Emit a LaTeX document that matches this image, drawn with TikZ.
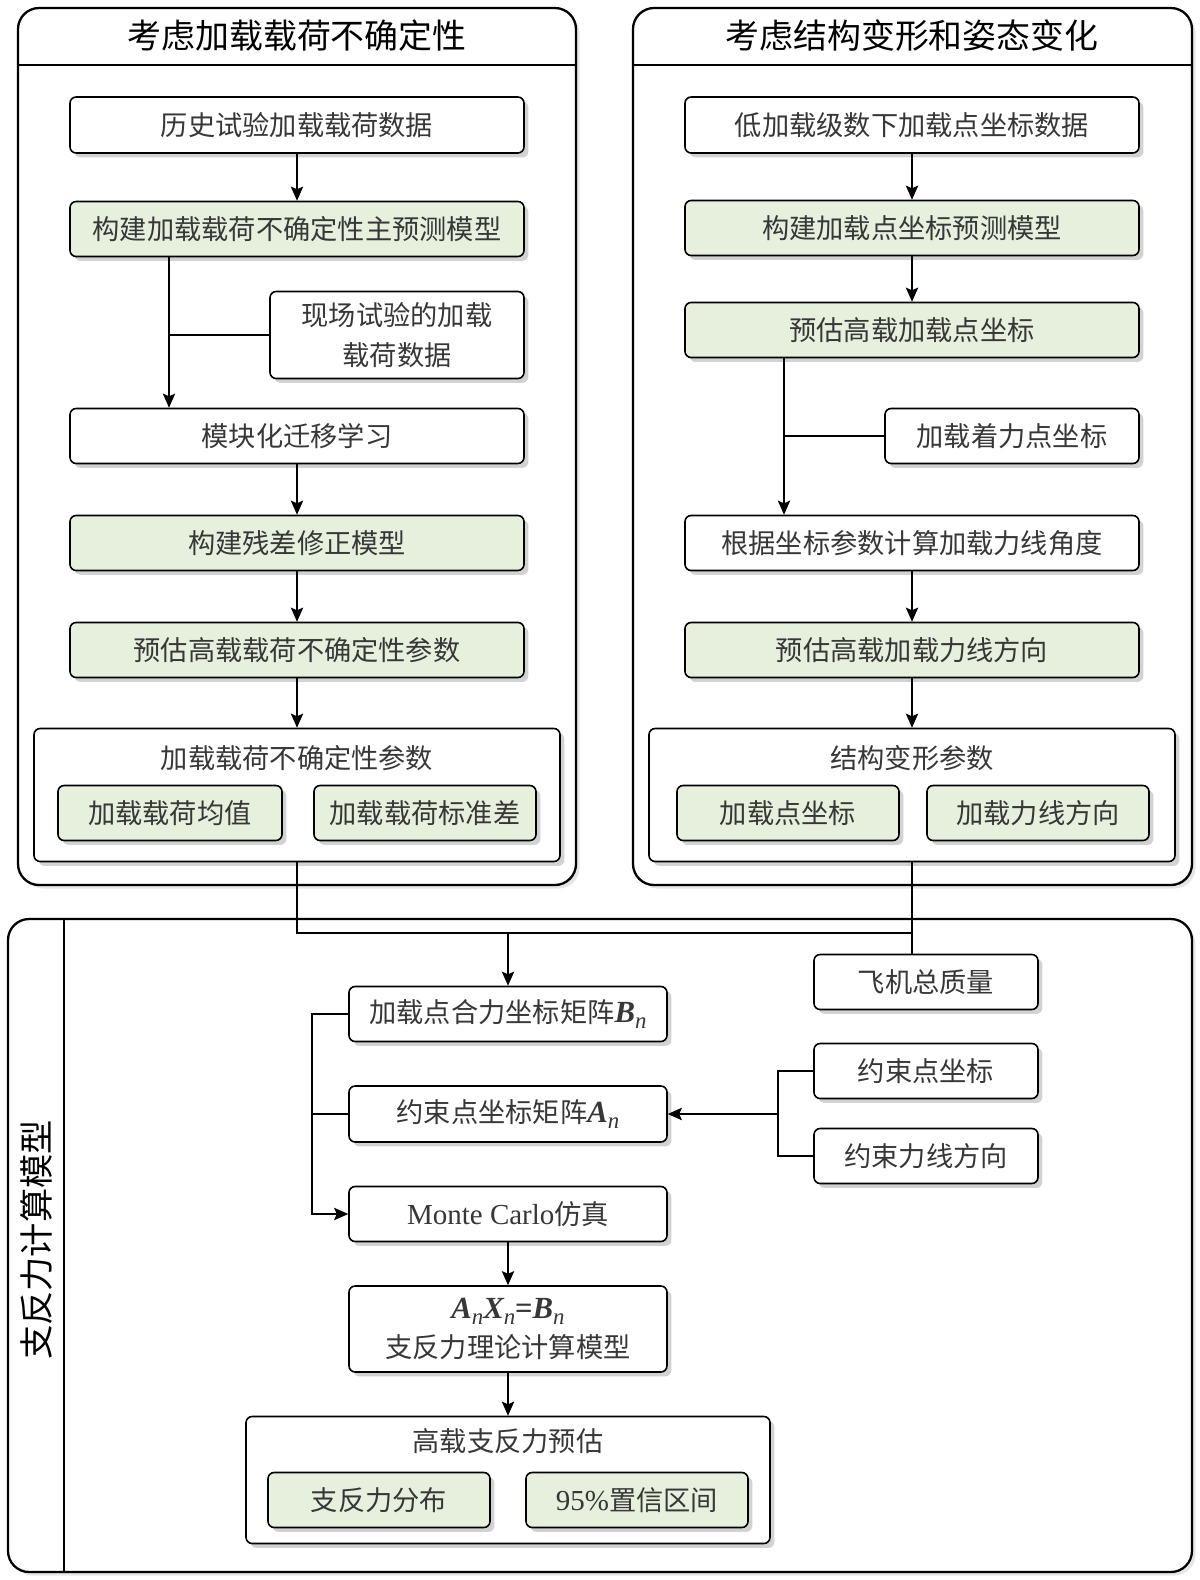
\documentclass[tikz,border=0pt]{standalone}
\usepackage{fontspec}
\setmainfont{Liberation Serif}
\newfontfamily\cjk{Noto Sans CJK SC}
\usetikzlibrary{arrows.meta,shadows}
\definecolor{boxgreen}{RGB}{231,240,220}
\definecolor{txtgray}{RGB}{55,55,55}
\newcommand\mvar[2]{{\rmfamily\bfseries\itshape\fontsize{17.5}{20}\selectfont #1}\raisebox{-0.45ex}{\rmfamily\itshape\fontsize{13}{13}\selectfont #2}}
\begin{document}
\begin{tikzpicture}[x=0.02cm,y=-0.02cm,
  sz/.style 2 args={minimum width=#1*0.02cm, minimum height=#2*0.02cm},
  box/.style={draw=black, line width=0.9pt, rounded corners=3.5pt, fill=white,
    drop shadow={shadow xshift=2.5pt,shadow yshift=-2.5pt,opacity=0.35},
    font=\cjk\fontsize{15.5}{22.5}\selectfont, text=txtgray, align=center, inner sep=0pt},
  gbox/.style={box, fill=boxgreen},
  panel/.style={draw=black, line width=1.3pt, rounded corners=12pt, fill=white,
    drop shadow={shadow xshift=2pt,shadow yshift=-2pt,opacity=0.2}},
  head/.style={font=\cjk\fontsize{19.3}{24}\selectfont, text=black},
  ctitle/.style={font=\cjk\fontsize{15.5}{20}\selectfont, text=txtgray},
  arr/.style={-{Stealth[length=8pt,width=7pt,inset=1.5pt]}, line width=1pt},
  ln/.style={line width=1pt},
]
\useasboundingbox (0,0) rectangle (1200,1580);

% ---------- panels ----------
\draw[panel] (18,8) rectangle (576,885);
\draw[line width=1.3pt] (18,65) -- (576,65);
\node[head] (hl) at (297,36) {考虑加载载荷不确定性};

\draw[panel] (633,8) rectangle (1192,885);
\draw[line width=1.3pt] (633,65) -- (1192,65);
\node[head] (hr) at (912,36) {考虑结构变形和姿态变化};

\draw[panel] (8,919) rectangle (1192,1572);
\draw[line width=1.3pt] (64,919) -- (64,1572);
\node[head, rotate=90, font=\cjk\fontsize{19.5}{24}\selectfont] (hb) at (36,1240) {支反力计算模型};

% ---------- left column ----------
\node[box, sz={454}{56}] (L1) at (297,125) {历史试验加载载荷数据};
\node[gbox, sz={454}{55}] (L2) at (297,229) {构建加载载荷不确定性主预测模型};
\node[box, sz={254}{87}] (L3) at (397,335) {现场试验的加载\\载荷数据};
\node[box, sz={454}{55}] (L4) at (297,436) {模块化迁移学习};
\node[gbox, sz={454}{55}] (L5) at (297,543) {构建残差修正模型};
\node[gbox, sz={454}{55}] (L6) at (297,650) {预估高载载荷不确定性参数};
\node[box, sz={526}{133}] (LC) at (297,795) {};
\node[ctitle] (LCt) at (297,758) {加载载荷不确定性参数};
\node[gbox, sz={224}{55}] (L7) at (170,813) {加载载荷均值};
\node[gbox, sz={222}{55}] (L8) at (425,813) {加载载荷标准差};

% ---------- right column ----------
\node[box, sz={454}{56}] (R1) at (912,125) {低加载级数下加载点坐标数据};
\node[gbox, sz={454}{55}] (R2) at (912,228) {构建加载点坐标预测模型};
\node[gbox, sz={454}{55}] (R3) at (912,330) {预估高载加载点坐标};
\node[box, sz={254}{55}] (R4) at (1012,436) {加载着力点坐标};
\node[box, sz={454}{55}] (R5) at (912,543) {根据坐标参数计算加载力线角度};
\node[gbox, sz={454}{55}] (R6) at (912,650) {预估高载加载力线方向};
\node[box, sz={526}{133}] (RC) at (912,795) {};
\node[ctitle] (RCt) at (912,758) {结构变形参数};
\node[gbox, sz={222}{55}] (R7) at (788,813) {加载点坐标};
\node[gbox, sz={222}{55}] (R8) at (1038,813) {加载力线方向};

% ---------- bottom ----------
\node[box, sz={224}{55}] (B0) at (926,982) {飞机总质量};
\node[box, sz={318}{55}] (B1) at (508,1014) {加载点合力坐标矩阵\mvar{B}{n}};
\node[box, sz={224}{55}] (B2) at (926,1071) {约束点坐标};
\node[box, sz={318}{56}] (B3) at (508,1114) {约束点坐标矩阵\mvar{A}{n}};
\node[box, sz={224}{55}] (B4) at (926,1156) {约束力线方向};
\node[box, sz={318}{55}] (B5) at (508,1214) {{\rmfamily\fontsize{16.5}{20}\selectfont Monte Carlo}仿真};
\node[box, sz={318}{86}] (B6) at (508,1329) {\mvar{A}{n}\mvar{X}{n}{\rmfamily\bfseries\fontsize{17.5}{20}\selectfont =}\mvar{B}{n}\\支反力理论计算模型};
\node[box, sz={524}{127}] (BC) at (508,1480) {};
\node[ctitle] (BCt) at (508,1441) {高载支反力预估};
\node[gbox, sz={222}{55}] (B7) at (379,1500) {支反力分布};
\node[gbox, sz={222}{55}] (B8) at (637,1500) {{\rmfamily\fontsize{16.5}{20}\selectfont 95\%}置信区间};

% ---------- connectors: left ----------
\coordinate (lb) at (169,0);
\draw[arr] (L1) -- (L2);
\draw[arr] (L2.south -| lb) -- (L4.north -| lb);
\draw[ln] (L3.west) -- (L3.west -| lb);
\draw[arr] (L4) -- (L5);
\draw[arr] (L5) -- (L6);
\draw[arr] (L6.south) -- (LC.north);

% ---------- connectors: right ----------
\coordinate (rb) at (784,0);
\draw[arr] (R1) -- (R2);
\draw[arr] (R2) -- (R3);
\draw[arr] (R3.south -| rb) -- (R5.north -| rb);
\draw[ln] (R4.west) -- (R4.west -| rb);
\draw[arr] (R5) -- (R6);
\draw[arr] (R6.south) -- (RC.north);

% ---------- junction ----------
\coordinate (jy) at (0,933);
\draw[ln] (LC.south) -- (LC.south |- jy) -- (RC.south |- jy);
\draw[ln] (RC.south) -- (RC.south |- B0.north);
\draw[arr] (B1.north |- jy) -- (B1.north);

% ---------- bottom connectors ----------
\coordinate (lk) at (312,0);
\draw[arr] (B1.west) -- (B1.west -| lk) -- (B5.west -| lk) -- (B5.west);
\draw[ln] (B3.west) -- (B3.west -| lk);
\coordinate (rk) at (778,0);
\draw[ln] (B2.west) -- (B2.west -| rk) -- (B4.west -| rk) -- (B4.west);
\draw[arr] (B3.east -| rk) -- (B3.east);
\draw[arr] (B5) -- (B6);
\draw[arr] (B6.south) -- (BC.north);
\end{tikzpicture}
\end{document}
